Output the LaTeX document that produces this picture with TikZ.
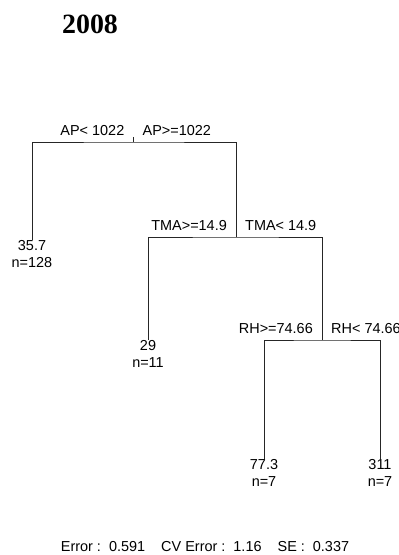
\documentclass[tikz,border=0pt]{standalone}
\usepackage{fontspec}
\setmainfont{Liberation Serif}
\setsansfont{Liberation Sans}
\usetikzlibrary{positioning}
\tikzstyle{split} = [inner sep=0pt, font=\sffamily\fontsize{14.5}{17}\selectfont]
\tikzstyle{leaf} = [inner sep=0pt, align=center, anchor=north,
    font=\sffamily\fontsize{14.5}{17}\selectfont]
\tikzstyle{branch} = [line width=0.8pt, black!85]
\begin{document}
\begin{tikzpicture}[x=1bp, y=-1bp, node distance=6bp and 9bp]
  \useasboundingbox (0,0) rectangle (398,555);

  \node (title) [font=\bfseries\fontsize{28}{30}\selectfont] at (90,24) {2008};

  % split points
  \coordinate (top) at (133.5,137);
  \coordinate (s1)  at (133.5,142);
  \coordinate (s3)  at (236,237);
  \coordinate (s7)  at (322,340);

  \node (s1l) [split, above left=of s1]  {AP< 1022};
  \node (s1r) [split, above right=of s1] {AP>=1022};
  \node (s3l) [split, above left=of s3]  {TMA>=14.9};
  \node (s3r) [split, above right=of s3] {TMA< 14.9};
  \node (s7l) [split, above left=of s7]  {RH>=74.66};
  \node (s7r) [split, above right=of s7] {RH< 74.66};

  % leaves
  \node (l2)  [leaf] at (32,240)  {35.7\\n=128};
  \node (l6)  [leaf] at (148,340) {29\\n=11};
  \node (l14) [leaf] at (264,459) {77.3\\n=7};
  \node (l15) [leaf] at (380,459) {311\\n=7};

  \draw[branch] (top) -- (s1);
  \draw[branch] (l2.north) |- (s1) -| (s3);
  \draw[branch] (l6.north) |- (s3) -| (s7);
  \draw[branch] (l14.north) |- (s7) -| (l15.north);

  \node (err) [split] at (205,547)
        {Error :\ \ 0.591\ \ \ \ CV Error :\ \ 1.16\ \ \ \ SE :\ \ 0.337};
\end{tikzpicture}
\end{document}
